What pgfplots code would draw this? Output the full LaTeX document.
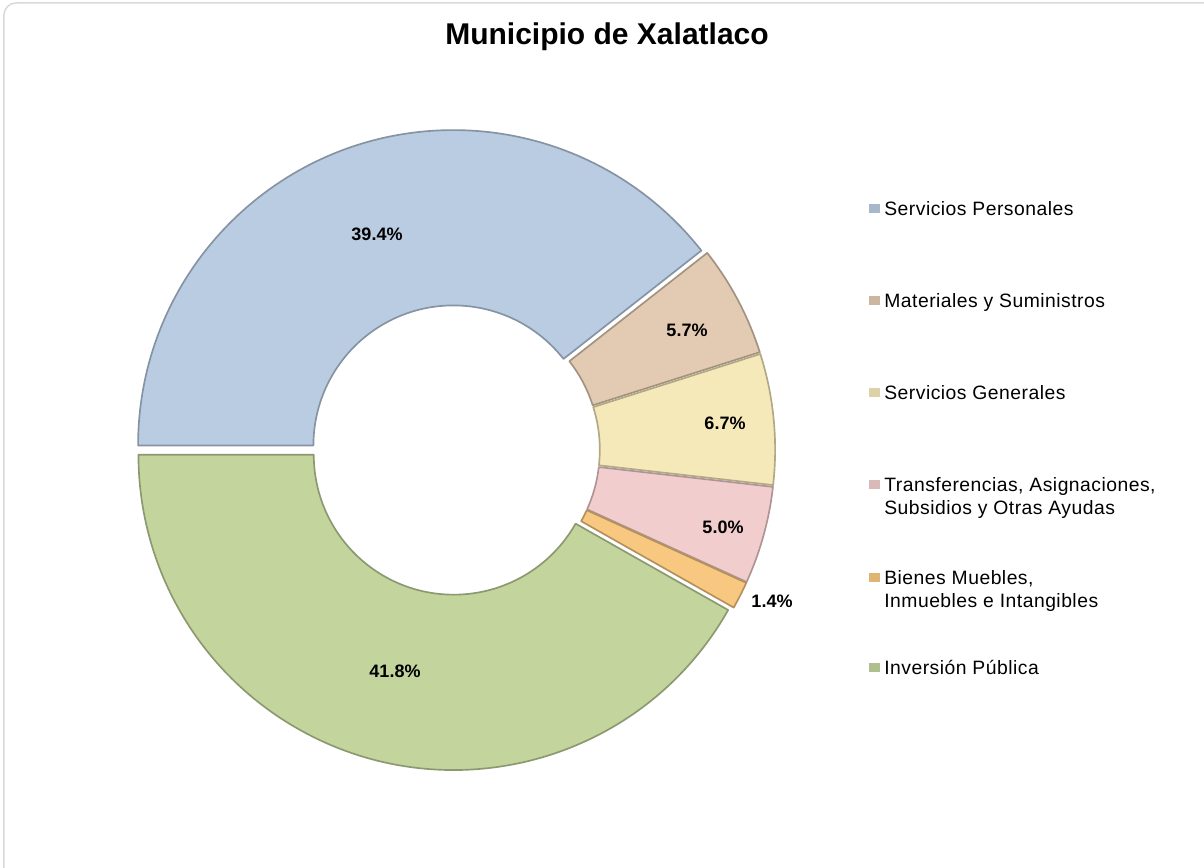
\documentclass[border=0pt]{standalone}
\usepackage{fontspec}
\setmainfont{Liberation Sans}
\newfontfamily\legfont[LetterSpace=2.5]{Liberation Sans}
\usepackage{pgfplots}
\usepackage{pgfplotstable}
\pgfplotsset{compat=1.18}

\definecolor{cSP}{RGB}{185,204,226}
\definecolor{cMS}{RGB}{226,203,178}
\definecolor{cSG}{RGB}{246,233,185}
\definecolor{cTR}{RGB}{242,205,205}
\definecolor{cBM}{RGB}{249,200,128}
\definecolor{cIP}{RGB}{195,212,156}
\definecolor{frame}{RGB}{217,217,217}

% share of each budget chapter (percent)
\pgfplotstableread{
idx value
0 39.4
1 5.7
2 6.7
3 5.0
4 1.4
5 41.8
}\donutdata

\begin{document}
\begin{tikzpicture}
\begin{axis}[x=0.6pt, y=0.6pt, xmin=0, xmax=1204, ymin=0, ymax=867,
  hide axis, clip=false, scale only axis]

% frame
\draw[frame, line width=0.9pt] (axis cs:4,-10) -- (axis cs:4,852)
  arc[start angle=180, end angle=90, radius=7.2pt] -- (axis cs:1214,864);

% donut
\pgfplotsextra{%
  \begin{scope}[shift={(axis cs:455,417)}]
  \gdef\startang{180}%
  \foreach \i/\col in {0/cSP,1/cMS,2/cSG,3/cTR,4/cBM,5/cIP}{%
    \pgfplotstablegetelem{\i}{value}\of\donutdata
    \pgfmathsetmacro\sweep{3.6*\pgfplotsretval}%
    \pgfmathsetmacro\endang{\startang-\sweep}%
    \pgfmathsetmacro\midang{(\startang+\endang)/2}%
    \fill[\col, draw=\col!72!black, line width=1.0pt, line join=round,
          shift={(\midang:2.9pt)}]
      (\startang:189.2pt) arc[start angle=\startang, end angle=\endang, radius=189.2pt]
      -- (\endang:84pt) arc[start angle=\endang, end angle=\startang, radius=84pt]
      -- cycle;
    \xdef\startang{\endang}%
  }
  \end{scope}
}

% data labels
\begin{scope}[every node/.style={font=\fontsize{10.8}{13}\selectfont\bfseries, inner sep=0pt}]
\node at (axis cs:377,633) {39.4\%};
\node at (axis cs:687,537) {5.7\%};
\node at (axis cs:725,444) {6.7\%};
\node at (axis cs:723,340) {5.0\%};
\node at (axis cs:772,266) {1.4\%};
\node at (axis cs:395,196) {41.8\%};
\end{scope}

% title
\node[anchor=base, inner sep=0pt, font=\fontsize{18}{22}\selectfont\bfseries]
  at (axis cs:607,822) {Municipio de Xalatlaco};

% legend
\begin{scope}[every node/.style={anchor=base west, inner sep=0pt,
    font=\legfont\fontsize{11.6}{14}\selectfont}]
\fill[cSP!90!black] (axis cs:868.5,654) rectangle (axis cs:879.5,663);
\node at (axis cs:884,651.5) {Servicios Personales};
\fill[cMS!90!black] (axis cs:868.5,562) rectangle (axis cs:879.5,571);
\node at (axis cs:884,559.5) {Materiales y Suministros};
\fill[cSG!90!black] (axis cs:868.5,470) rectangle (axis cs:879.5,479);
\node at (axis cs:884,467.5) {Servicios Generales};
\fill[cTR!90!black] (axis cs:868.5,378) rectangle (axis cs:879.5,387);
\node at (axis cs:884,375.5) {Transferencias, Asignaciones,};
\node at (axis cs:884,352.5) {Subsidios y Otras Ayudas};
\fill[cBM!90!black] (axis cs:868.5,285) rectangle (axis cs:879.5,294);
\node at (axis cs:884,282.5) {Bienes Muebles,};
\node at (axis cs:884,259.5) {Inmuebles e Intangibles};
\fill[cIP!90!black] (axis cs:868.5,195) rectangle (axis cs:879.5,204);
\node at (axis cs:884,192.5) {Inversión Pública};
\end{scope}
\end{axis}
\pgfresetboundingbox
\useasboundingbox (current axis.south west) rectangle (current axis.north east);
\end{tikzpicture}
\end{document}
